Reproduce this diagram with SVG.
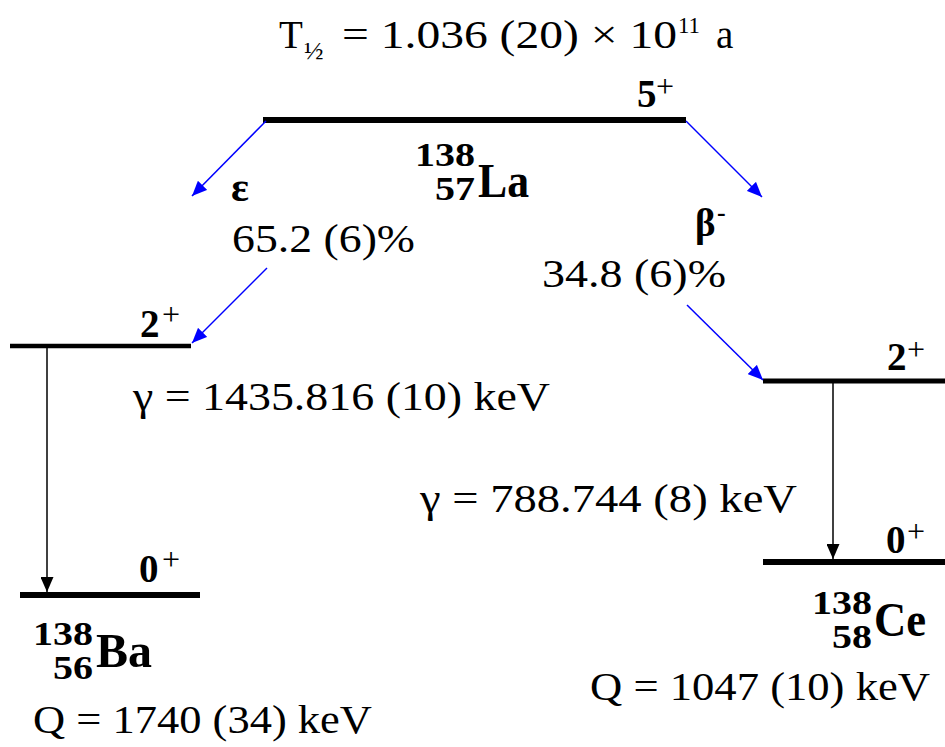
<svg xmlns="http://www.w3.org/2000/svg" width="945" height="747" viewBox="0 0 945 747">
<defs>
<marker id="ab" markerUnits="userSpaceOnUse" markerWidth="15" markerHeight="13" refX="15" refY="6.5" orient="auto"><path d="M0,0 L15,6.5 L0,13 z" fill="#0000ff"/></marker>
<marker id="ak" markerUnits="userSpaceOnUse" markerWidth="15" markerHeight="13" refX="15" refY="6.5" orient="auto"><path d="M0,0 L15,6.5 L0,13 z" fill="#000"/></marker>
<style>
text{font-family:"Liberation Serif","DejaVu Serif",serif;fill:#000}
.t{font-size:39px}
.sp{font-size:39px;font-weight:bold}
.pl{font-size:32px;font-weight:normal}
.z{font-size:33px;font-weight:bold}
.el{font-size:49px;font-weight:bold}
.lv{stroke:#000;fill:none}
.bl{stroke:#0000ff;stroke-width:1.5;fill:none;marker-end:url(#ab)}
.gm{stroke:#000;stroke-width:1.5;fill:none;marker-end:url(#ak)}
</style>
</defs>

<g id="title">
<text class="t" y="48"><tspan x="279">T</tspan><tspan x="304" y="59" style="font-size:26px">½</tspan><tspan x="342" y="48" textLength="335" lengthAdjust="spacingAndGlyphs">= 1.036 (20) × 10</tspan><tspan x="678" y="33" style="font-size:24px" textLength="22" lengthAdjust="spacingAndGlyphs">11</tspan><tspan x="716" y="48">a</tspan></text>
</g>

<g id="La138">
<line class="lv" x1="263" y1="120" x2="686" y2="120" stroke-width="6"/>
<text class="sp" x="637" y="107">5<tspan class="pl" x="656" y="97">+</tspan></text>
<text class="z"><tspan x="415" y="166" textLength="60" lengthAdjust="spacingAndGlyphs">138</tspan><tspan x="435" y="200" textLength="40" lengthAdjust="spacingAndGlyphs">57</tspan><tspan class="el" x="478" y="197" textLength="51" lengthAdjust="spacingAndGlyphs">La</tspan></text>
</g>

<g id="Ba138-2plus">
<line class="lv" x1="10" y1="346" x2="191" y2="346" stroke-width="4.5"/>
<text class="sp" x="140" y="337">2<tspan class="pl" x="162" y="325">+</tspan></text>
</g>

<g id="Ba138-0plus">
<line class="lv" x1="20" y1="595" x2="200" y2="595" stroke-width="6"/>
<text class="sp" x="139" y="582">0<tspan class="pl" x="162" y="570">+</tspan></text>
<text class="z"><tspan x="33" y="645" textLength="60" lengthAdjust="spacingAndGlyphs">138</tspan><tspan x="53" y="679" textLength="40" lengthAdjust="spacingAndGlyphs">56</tspan><tspan class="el" x="96" y="667" textLength="56" lengthAdjust="spacingAndGlyphs">Ba</tspan></text>
<text class="t" x="33" y="733" textLength="339" lengthAdjust="spacingAndGlyphs">Q = 1740 (34) keV</text>
</g>

<g id="Ce138-2plus">
<line class="lv" x1="763" y1="381" x2="945" y2="381" stroke-width="5"/>
<text class="sp" x="887" y="370">2<tspan class="pl" x="907" y="360">+</tspan></text>
</g>

<g id="Ce138-0plus">
<line class="lv" x1="763" y1="562" x2="945" y2="562" stroke-width="6"/>
<text class="sp" x="886" y="553">0<tspan class="pl" x="907" y="542">+</tspan></text>
<text class="z"><tspan x="812" y="614" textLength="60" lengthAdjust="spacingAndGlyphs">138</tspan><tspan x="832" y="648" textLength="40" lengthAdjust="spacingAndGlyphs">58</tspan><tspan class="el" x="874" y="636" textLength="52" lengthAdjust="spacingAndGlyphs">Ce</tspan></text>
<text class="t" x="590" y="700" textLength="340" lengthAdjust="spacingAndGlyphs">Q = 1047 (10) keV</text>
</g>

<g id="labels">
<text class="sp" x="231" y="201" style="font-size:42px">ε</text>
<text class="t" x="232" y="252" textLength="183" lengthAdjust="spacingAndGlyphs">65.2 (6)%</text>
<text class="sp" x="695" y="236">β<tspan x="717" y="221" style="font-size:26px">-</tspan></text>
<text class="t" x="542" y="287" textLength="184" lengthAdjust="spacingAndGlyphs">34.8 (6)%</text>
<text class="t" x="133" y="410" textLength="417" lengthAdjust="spacingAndGlyphs">γ = 1435.816 (10) keV</text>
<text class="t" x="420" y="512" textLength="377" lengthAdjust="spacingAndGlyphs">γ = 788.744 (8) keV</text>
</g>

<g id="connectors">
<line class="bl" x1="266" y1="121" x2="192" y2="196"/>
<line class="bl" x1="686" y1="121" x2="762" y2="197"/>
<line class="bl" x1="267" y1="268" x2="192" y2="343"/>
<line class="bl" x1="687" y1="305" x2="763" y2="380"/>
<line class="gm" x1="47" y1="348" x2="47" y2="592"/>
<line class="gm" x1="833" y1="383" x2="833" y2="559"/>
</g>
</svg>
